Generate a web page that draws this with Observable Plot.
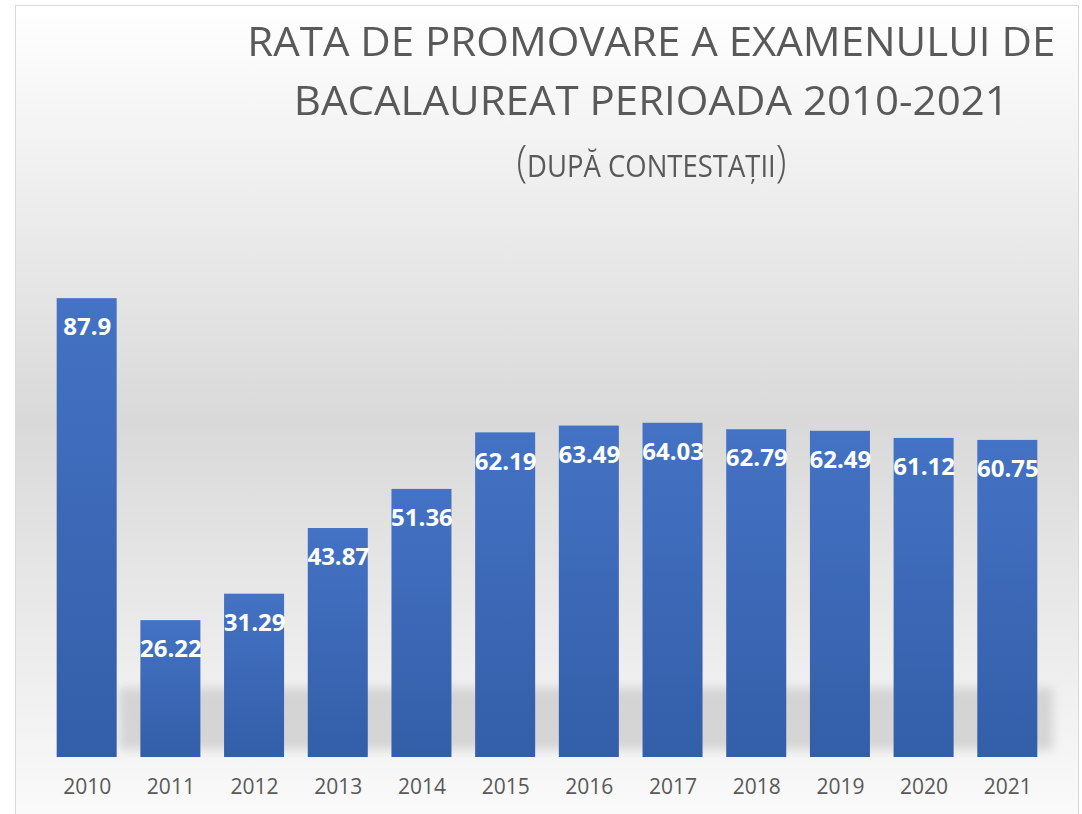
<!DOCTYPE html>
<html>
<head>
<meta charset="utf-8">
<script src="https://cdn.jsdelivr.net/npm/d3@7"></script>
<script src="https://cdn.jsdelivr.net/npm/@observablehq/plot@0.6"></script>
<style>
  html, body { margin: 0; padding: 0; background: #ffffff; overflow: hidden; }
  body { width: 1082px; height: 814px; position: relative; font-family: "Open Sans", sans-serif; }
  #box {
    position: absolute; left: 15px; top: 5px; width: 1062px; height: 830px;
    border: 1.5px solid #d9d9d9;
    background: linear-gradient(to bottom, #ffffff 0%, #d9d9d9 50%, #fcfcfc 100%);
    z-index: 0;
  }
  #shadow {
    position: absolute; left: 119px; top: 688px; width: 934px; height: 62px;
    background: #bdbdbd; opacity: 0.55; filter: blur(5px); z-index: 0;
  }
  #title { position: relative; height: 200px; z-index: 1; color: #595959; }
  .line { position: absolute; left: 0; width: 1302px; text-align: center; white-space: nowrap;
          font-weight: 400; line-height: normal; }
  .line span.inner { display: inline-block; transform-origin: 50% 50%; }
  #chart { position: relative; z-index: 1; }
  #chart svg { display: block; overflow: visible; }
</style>
</head>
<body>
<div id="box"></div>
<div id="shadow"></div>
<div id="title">
  <div class="line" id="t1" style="top:13px; font-size:40.6px;"><span class="inner">RATA DE PROMOVARE A EXAMENULUI DE</span></div>
  <div class="line" id="t2" style="top:71.5px; font-size:40.6px;"><span class="inner">BACALAUREAT PERIOADA 2010-2021</span></div>
  <div class="line" id="t3" style="top:130px; font-size:44px;"><span class="inner" style="font-weight:300;">(<span style="font-size:30.8px; font-weight:400;">DUPĂ CONTESTAȚII</span>)</span></div>
</div>
<div id="chart"></div>
<script>
const years = ["2010", "2011", "2012", "2013", "2014", "2015", "2016", "2017", "2018", "2019", "2020", "2021"];
const rates = [87.9, 26.22, 31.29, 43.87, 51.36, 62.19, 63.49, 64.03, 62.79, 62.49, 61.12, 60.75];
const rateLabels = ["87.9", "26.22", "31.29", "43.87", "51.36", "62.19", "63.49", "64.03", "62.79", "62.49", "61.12", "60.75"];

const data = years.map((y, i) => ({year: y, rate: rates[i], label: rateLabels[i]}));

// fit title lines horizontally
function fit(id, target) {
  const el = document.querySelector("#" + id + " .inner");
  const w = el.getBoundingClientRect().width;
  const k = target / w;
  el.style.transform = `scaleX(${k})`;
  return k;
}
const k1 = fit("t1", 808);
document.querySelector("#t2 .inner").style.transform = `scaleX(${k1})`;
fit("t3", 270);

const chart = Plot.plot({
  width: 1082,
  height: 614,
  marginLeft: 33,
  marginRight: 21,
  marginTop: 35,
  marginBottom: 57,
  style: {fontFamily: "Open Sans", color: "#595959", background: "transparent", fontSize: "21px"},
  x: {domain: years, padding: 0.283, round: false, label: null},
  y: {domain: [0, 100], axis: null},
  marks: [
    Plot.barY(data, {x: "year", y: "rate", fill: "url(#barGrad)"}),
    Plot.text(data, {x: "year", y: "rate", text: "label", dy: 29, fill: "white",
      fontSize: 24, fontWeight: "bold", lineAnchor: "middle"}),
    Plot.axisX({tickSize: 0, tickPadding: 22, fontSize: 21, label: null})
  ]
});

d3.select(chart).insert("defs", ":first-child").html(
  `<linearGradient id="barGrad" x1="0" y1="0" x2="0" y2="1">
     <stop offset="0" stop-color="#4472c4"/>
     <stop offset="1" stop-color="#335ea8"/>
   </linearGradient>`);

document.getElementById("chart").appendChild(chart);
</script>
</body>
</html>
